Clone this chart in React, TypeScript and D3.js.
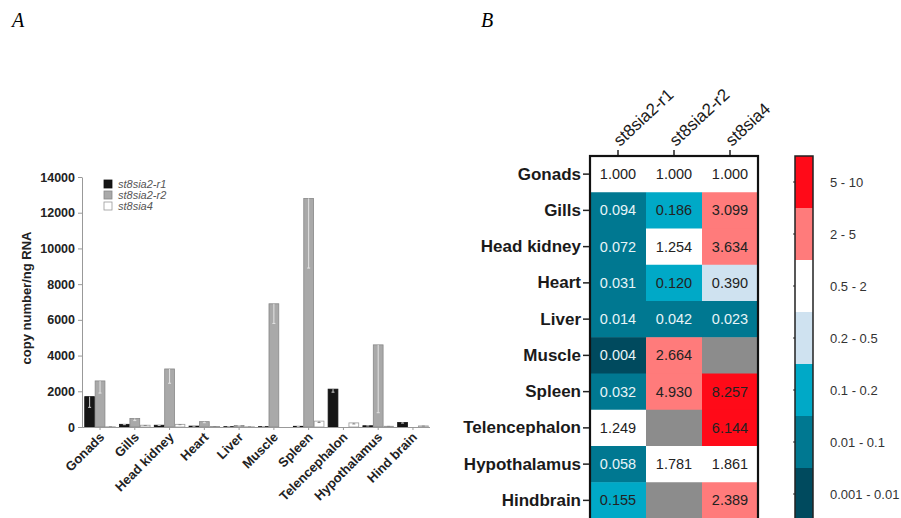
import React, { useRef, useEffect } from 'react';
import * as d3 from 'd3';

// panel A data
const tissues = ['Gonads', 'Gills', 'Head kidney', 'Heart', 'Liver', 'Muscle', 'Spleen', 'Telencephalon', 'Hypothalamus', 'Hind brain'];
const genes = ['st8sia2-r1', 'st8sia2-r2', 'st8sia4'];
const r1Values = [1700, 150, 100, 50, 20, 20, 40, 2120, 70, 250];
const r2Values = [2580, 480, 3250, 300, 80, 6900, 12800, 0, 4600, 0];
const r4Values = [10, 100, 150, 30, 10, 0, 330, 230, 40, 60];
const r1Err = [600, 20, 10, 5, 5, 5, 5, 170, 10, 30];
const r2Err = [680, 120, 800, 60, 15, 1100, 3900, 0, 3800, 0];
const r4Err = [2, 15, 20, 5, 3, 0, 80, 60, 5, 10];
const yTicks = [0, 2000, 4000, 6000, 8000, 10000, 12000, 14000];

// panel B data
const hmRows = ['Gonads', 'Gills', 'Head kidney', 'Heart', 'Liver', 'Muscle', 'Spleen', 'Telencephalon', 'Hypothalamus', 'Hindbrain'];
const hmR1 = [1.0, 0.094, 0.072, 0.031, 0.014, 0.004, 0.032, 1.249, 0.058, 0.155];
const hmR2 = [1.0, 0.186, 1.254, 0.12, 0.042, 2.664, 4.93, null, 1.781, null];
const hmR4 = [1.0, 3.099, 3.634, 0.39, 0.023, null, 8.257, 6.144, 1.861, 2.389];
const bins = [0.01, 0.1, 0.2, 0.5, 2, 5];
const binColors = ['#004a5e', '#007891', '#00a9c7', '#cfe2f0', '#ffffff', '#ff7b7b', '#ff0a18'];
const binLabels = ['0.001 - 0.01', '0.01 - 0.1', '0.1 - 0.2', '0.2 - 0.5', '0.5 - 2', '2 - 5', '5 - 10'];

const FONT = 'Liberation Sans, Arial, sans-serif';

const App = () => {
  const svgRef = useRef<SVGSVGElement>(null);

  useEffect(() => {
    const svg = d3.select(svgRef.current);
    svg.selectAll('*').remove();

    svg.append('text').attr('x', 12).attr('y', 27).text('A')
      .attr('font-family', 'Liberation Serif, serif').attr('font-style', 'italic').attr('font-size', 20);
    svg.append('text').attr('x', 481).attr('y', 27).text('B')
      .attr('font-family', 'Liberation Serif, serif').attr('font-style', 'italic').attr('font-size', 20);

    // ---------- bar chart ----------
    const x0 = d3.scaleBand().domain(tissues).range([83, 430]).paddingInner(0.12).paddingOuter(0.05);
    const x1 = d3.scaleBand().domain(genes).range([0, x0.bandwidth()]).paddingInner(0.06);
    const y = d3.scaleLinear().domain([0, 14000]).range([427, 177]);

    const series = [
      { vals: r1Values, err: r1Err, fill: '#151515', stroke: '#111', errColor: '#cfcfcf' },
      { vals: r2Values, err: r2Err, fill: '#a9a9a9', stroke: '#888', errColor: '#e4e4e4' },
      { vals: r4Values, err: r4Err, fill: '#ffffff', stroke: '#999', errColor: '#888' },
    ];

    const bars = svg.append('g');
    series.forEach((s, si) => {
      tissues.forEach((t, i) => {
        const v = s.vals[i];
        const bx = x0(t)! + x1(genes[si])!;
        const bw = x1.bandwidth();
        if (v <= 0) return;
        bars.append('rect').attr('x', bx).attr('y', y(v)).attr('width', bw).attr('height', y(0) - y(v))
          .attr('fill', s.fill).attr('stroke', s.stroke).attr('stroke-width', 0.8);
        if (s.err[i] > 0) {
          const cx = bx + bw / 2;
          const lo = y(Math.max(0, v - s.err[i]));
          bars.append('line').attr('x1', cx).attr('x2', cx).attr('y1', y(v)).attr('y2', lo)
            .attr('stroke', s.errColor).attr('stroke-width', 1);
          bars.append('line').attr('x1', cx - 1.5).attr('x2', cx + 1.5).attr('y1', lo).attr('y2', lo)
            .attr('stroke', s.errColor).attr('stroke-width', 1);
        }
      });
    });

    const yAxis = svg.append('g').attr('transform', 'translate(82,0)')
      .call(d3.axisLeft(y).tickValues(yTicks).tickSize(4).tickSizeOuter(0).tickFormat(d3.format('d')));
    yAxis.select('.domain').attr('stroke', '#999');
    yAxis.selectAll('.tick line').attr('stroke', '#999');
    yAxis.selectAll('.tick text').attr('font-family', FONT)
      .attr('font-weight', 'bold').attr('font-size', 12.5).attr('fill', '#222').attr('x', -7);

    const xAxis = svg.append('g').attr('transform', 'translate(0,427)')
      .call(d3.axisBottom(x0).tickSize(3).tickSizeOuter(0));
    xAxis.select('.domain').attr('stroke', '#999').attr('d', 'M82,0.5H430');
    xAxis.selectAll('.tick line').attr('stroke', '#999');
    xAxis.selectAll('.tick text').attr('font-family', FONT)
      .attr('font-weight', 'bold').attr('font-size', 13).attr('fill', '#222')
      .attr('text-anchor', 'end').attr('dy', 0).attr('y', 0)
      .attr('transform', 'translate(5,11) rotate(-45)');

    svg.append('text').attr('transform', 'translate(31,298) rotate(-90)').attr('text-anchor', 'middle')
      .attr('font-family', FONT).attr('font-weight', 'bold').attr('font-size', 13)
      .attr('fill', '#222').text('copy number/ng RNA');

    const legendStroke = ['#111', '#888', '#999'];
    const legend = svg.append('g');
    series.forEach((s, i) => {
      legend.append('rect').attr('x', 104).attr('y', 180 + i * 11).attr('width', 8).attr('height', 8)
        .attr('fill', s.fill).attr('stroke', legendStroke[i]).attr('stroke-width', 0.8);
      legend.append('text').attr('x', 118).attr('y', 184 + i * 11).attr('dominant-baseline', 'central')
        .attr('font-family', FONT).attr('font-style', 'italic').attr('font-size', 11)
        .attr('fill', '#555').text(genes[i]);
    });

    // ---------- heatmap ----------
    const cols = d3.scaleBand().domain(genes).range([590, 758]);
    const rows = d3.scaleBand().domain(hmRows).range([156, 518.5]);
    const color = d3.scaleThreshold<number, string>().domain(bins).range(binColors);
    const colVals = [hmR1, hmR2, hmR4];

    const hm = svg.append('g');
    genes.forEach((g, ci) => {
      hmRows.forEach((r, ri) => {
        const v = colVals[ci][ri];
        hm.append('rect').attr('x', cols(g)!).attr('y', rows(r)!).attr('width', cols.bandwidth() + 0.5)
          .attr('height', rows.bandwidth() + 0.5).attr('fill', v == null ? '#8c8c8c' : color(v));
        if (v != null) {
          const dark = v < 0.1;
          hm.append('text').attr('x', cols(g)! + cols.bandwidth() / 2).attr('y', rows(r)! + rows.bandwidth() / 2)
            .attr('text-anchor', 'middle').attr('dominant-baseline', 'central')
            .attr('font-family', FONT).attr('font-size', 14.5)
            .attr('fill', dark ? '#e8f4f8' : '#222').text(v.toFixed(3));
        }
      });
    });
    hm.append('rect').attr('x', 590).attr('y', 156).attr('width', 168).attr('height', 370)
      .attr('fill', 'none').attr('stroke', '#111').attr('stroke-width', 2.2);

    const rowAxis = svg.append('g').attr('transform', 'translate(589,0)')
      .call(d3.axisLeft(rows).tickSize(6).tickSizeOuter(0));
    rowAxis.select('.domain').remove();
    rowAxis.selectAll('.tick line').attr('stroke', '#222').attr('stroke-width', 1.5);
    rowAxis.selectAll('.tick text').attr('font-family', FONT)
      .attr('font-weight', 'bold').attr('font-size', 17).attr('fill', '#1a1a1a').attr('x', -8);

    const colAxis = svg.append('g').attr('transform', 'translate(0,155)')
      .call(d3.axisTop(cols).tickSize(5).tickSizeOuter(0));
    colAxis.select('.domain').remove();
    colAxis.selectAll('.tick line').attr('stroke', '#222').attr('stroke-width', 1.5);
    colAxis.selectAll('.tick text').attr('font-family', FONT)
      .attr('font-size', 17).attr('fill', '#1a1a1a').attr('text-anchor', 'start').attr('y', 0).attr('dy', 0)
      .attr('transform', 'translate(2,-8) rotate(-43)');

    // ---------- colour legend ----------
    const reversed = binLabels.slice().reverse();
    const lg = d3.scaleBand().domain(reversed).range([156, 520]);
    const cb = svg.append('g');
    reversed.forEach((lab, i) => {
      const cy = lg(lab)! + lg.bandwidth() / 2;
      cb.append('rect').attr('x', 795).attr('y', lg(lab)!).attr('width', 18).attr('height', lg.bandwidth() + 0.5)
        .attr('fill', binColors[binColors.length - 1 - i]);
      cb.append('line').attr('x1', 793).attr('x2', 795).attr('y1', cy).attr('y2', cy).attr('stroke', '#333');
      cb.append('text').attr('x', 830).attr('y', cy).attr('dominant-baseline', 'central')
        .attr('font-family', FONT).attr('font-size', 13).attr('fill', '#333').text(lab);
    });
    cb.append('rect').attr('x', 795).attr('y', 156).attr('width', 18).attr('height', 370)
      .attr('fill', 'none').attr('stroke', '#222').attr('stroke-width', 1.5);
  }, []);

  return (
    <svg ref={svgRef} width={901} height={518}
      style={{ position: 'absolute', left: 0, top: 0, background: '#fff' }} />
  );
};

export default App;
